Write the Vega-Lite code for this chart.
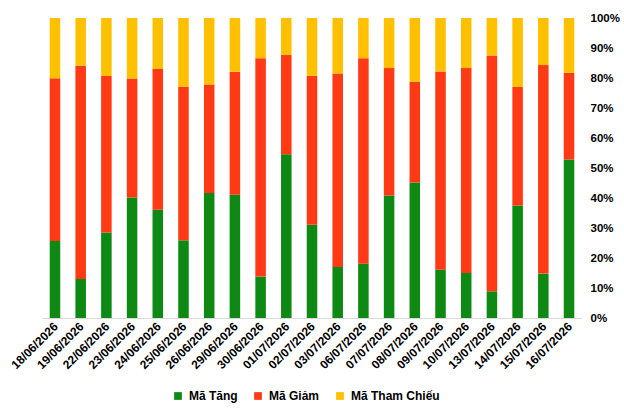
{
  "$schema": "https://vega.github.io/schema/vega-lite/v6.json",
  "width": 540,
  "height": 300,
  "autosize": "none",
  "padding": {"left": 42, "top": 18, "right": 42, "bottom": 94},
  "background": "white",
  "data": {
    "values": [
      {"ngay": "18/06/2026", "Mã Tăng": 25.7, "Mã Giảm": 54.2, "Mã Tham Chiếu": 20.1},
      {"ngay": "19/06/2026", "Mã Tăng": 13.0, "Mã Giảm": 71.1, "Mã Tham Chiếu": 15.9},
      {"ngay": "22/06/2026", "Mã Tăng": 28.5, "Mã Giảm": 52.2, "Mã Tham Chiếu": 19.3},
      {"ngay": "23/06/2026", "Mã Tăng": 40.2, "Mã Giảm": 39.6, "Mã Tham Chiếu": 20.2},
      {"ngay": "24/06/2026", "Mã Tăng": 36.1, "Mã Giảm": 46.9, "Mã Tham Chiếu": 17.0},
      {"ngay": "25/06/2026", "Mã Tăng": 25.9, "Mã Giảm": 51.1, "Mã Tham Chiếu": 23.0},
      {"ngay": "26/06/2026", "Mã Tăng": 41.7, "Mã Giảm": 36.1, "Mã Tham Chiếu": 22.2},
      {"ngay": "29/06/2026", "Mã Tăng": 41.1, "Mã Giảm": 41.0, "Mã Tham Chiếu": 17.9},
      {"ngay": "30/06/2026", "Mã Tăng": 13.8, "Mã Giảm": 72.8, "Mã Tham Chiếu": 13.4},
      {"ngay": "01/07/2026", "Mã Tăng": 54.6, "Mã Giảm": 33.1, "Mã Tham Chiếu": 12.3},
      {"ngay": "02/07/2026", "Mã Tăng": 31.1, "Mã Giảm": 49.6, "Mã Tham Chiếu": 19.3},
      {"ngay": "03/07/2026", "Mã Tăng": 17.0, "Mã Giảm": 64.5, "Mã Tham Chiếu": 18.5},
      {"ngay": "06/07/2026", "Mã Tăng": 18.1, "Mã Giảm": 68.5, "Mã Tham Chiếu": 13.4},
      {"ngay": "07/07/2026", "Mã Tăng": 40.8, "Mã Giảm": 42.5, "Mã Tham Chiếu": 16.7},
      {"ngay": "08/07/2026", "Mã Tăng": 45.2, "Mã Giảm": 33.5, "Mã Tham Chiếu": 21.3},
      {"ngay": "09/07/2026", "Mã Tăng": 16.1, "Mã Giảm": 66.1, "Mã Tham Chiếu": 17.8},
      {"ngay": "10/07/2026", "Mã Tăng": 15.0, "Mã Giảm": 68.3, "Mã Tham Chiếu": 16.7},
      {"ngay": "13/07/2026", "Mã Tăng": 8.9, "Mã Giảm": 78.6, "Mã Tham Chiếu": 12.5},
      {"ngay": "14/07/2026", "Mã Tăng": 37.5, "Mã Giảm": 39.5, "Mã Tham Chiếu": 23.0},
      {"ngay": "15/07/2026", "Mã Tăng": 14.8, "Mã Giảm": 69.5, "Mã Tham Chiếu": 15.7},
      {"ngay": "16/07/2026", "Mã Tăng": 52.8, "Mã Giảm": 28.9, "Mã Tham Chiếu": 18.3}
    ]
  },
  "transform": [
    {"fold": ["Mã Tăng", "Mã Giảm", "Mã Tham Chiếu"], "as": ["loai", "tyle"]},
    {"calculate": "indexof(['Mã Tăng', 'Mã Giảm', 'Mã Tham Chiếu'], datum.loai)", "as": "thutu"}
  ],
  "mark": {"type": "bar"},
  "encoding": {
    "x": {
      "field": "ngay",
      "type": "nominal",
      "sort": null,
      "title": null,
      "scale": {"paddingInner": 0.59, "paddingOuter": 0.3},
      "axis": {
        "labelAngle": -45,
        "labelAlign": "right",
        "labelBaseline": "middle",
        "labelFont": "Liberation Sans",
        "labelFontWeight": "bold",
        "labelFontSize": 12,
        "labelColor": "black",
        "labelPadding": 6,
        "ticks": false,
        "domainColor": "#d9d9d9",
        "labelOffset": 1
      }
    },
    "y": {
      "field": "tyle",
      "type": "quantitative",
      "stack": "normalize",
      "title": null,
      "scale": {"domain": [0, 1]},
      "axis": {
        "orient": "right",
        "format": ".0%",
        "values": [0, 0.1, 0.2, 0.3, 0.4, 0.5, 0.6, 0.7, 0.8, 0.9, 1],
        "grid": false,
        "ticks": false,
        "domain": false,
        "labelFont": "Liberation Sans",
        "labelFontWeight": "bold",
        "labelFontSize": 11.5,
        "labelColor": "black",
        "labelPadding": 8
      }
    },
    "color": {
      "field": "loai",
      "type": "nominal",
      "scale": {
        "domain": ["Mã Tăng", "Mã Giảm", "Mã Tham Chiếu"],
        "range": ["#0e8a14", "#ff3a14", "#ffc000"]
      },
      "legend": {
        "title": null,
        "orient": "none",
        "direction": "horizontal",
        "legendX": 130,
        "legendY": 372,
        "symbolType": "square",
        "symbolSize": 60,
        "symbolStrokeWidth": 0,
        "columnPadding": 14,
        "labelFont": "Liberation Sans",
        "labelFontWeight": "bold",
        "labelFontSize": 12,
        "labelColor": "black",
        "labelOffset": 5
      }
    },
    "order": {"field": "thutu", "type": "quantitative", "sort": "ascending"}
  },
  "config": {"view": {"stroke": null}}
}
